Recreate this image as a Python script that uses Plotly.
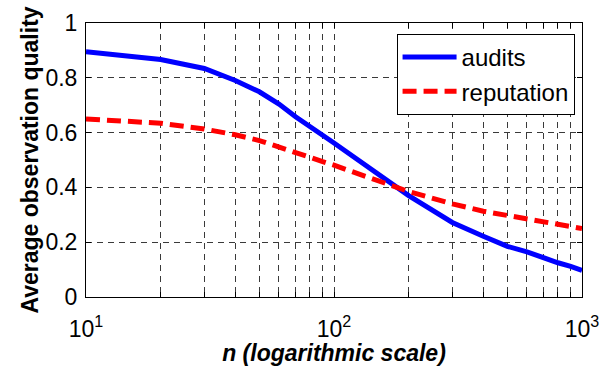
import plotly.graph_objects as go

n_values = [10, 20, 30, 40, 50, 60, 70, 80, 90, 100, 200, 300, 400, 500, 600, 700, 800, 900, 1000]
audits = [0.895, 0.867, 0.834, 0.79, 0.749, 0.704, 0.658, 0.62, 0.59, 0.562,
          0.37, 0.272, 0.222, 0.185, 0.165, 0.143, 0.125, 0.112, 0.097]
reputation = [0.65, 0.634, 0.613, 0.592, 0.571, 0.549, 0.529, 0.51, 0.494, 0.481,
              0.385, 0.34, 0.313, 0.297, 0.283, 0.272, 0.262, 0.256, 0.25]

x_tickvals = [10, 100, 1000]
x_ticktext = ["10<sup>1</sup>", "10<sup>2</sup>", "10<sup>3</sup>"]
y_tickvals = [0, 0.2, 0.4, 0.6, 0.8, 1]
y_ticktext = ["0", "0.2", "0.4", "0.6", "0.8", "1"]

FONT = "Liberation Sans, Arial, Helvetica, sans-serif"

fig = go.Figure()
fig.add_trace(go.Scatter(x=n_values, y=audits, mode="lines", name="audits",
                         line=dict(color="#0000FF", width=5)))
fig.add_trace(go.Scatter(x=n_values, y=reputation, mode="lines", name="reputation",
                         line=dict(color="#FF0000", width=5, dash="14px,7px")))

grid_common = dict(showgrid=True, gridcolor="#3a3a3a", gridwidth=1, griddash="6px,5px")

fig.update_layout(
    width=602, height=366,
    margin=dict(l=86, r=20, t=23, b=69),
    paper_bgcolor="white", plot_bgcolor="white",
    font=dict(family=FONT, size=22, color="black"),
    showlegend=True,
    legend=dict(x=0.985, y=0.96, xanchor="right", yanchor="top",
                bgcolor="white", bordercolor="black", borderwidth=1,
                font=dict(family=FONT, size=24, color="black"),
                itemwidth=54, tracegroupgap=0),
    xaxis=dict(
        type="log", range=[1, 3], automargin=False,
        tickmode="array", tickvals=x_tickvals, ticktext=x_ticktext,
        ticks="inside", ticklen=5, tickcolor="black",
        showline=True, linecolor="black", linewidth=1, mirror="allticks",
        tickfont=dict(size=23),
        ticklabelstandoff=11,
        minor=dict(dtick="D1", ticks="inside", ticklen=5, tickcolor="black",
                   showgrid=True, gridcolor="#3a3a3a", gridwidth=1, griddash="6px,5px"),
        title=dict(text="<b><i>n (logarithmic scale)</i></b>", font=dict(size=23), standoff=5),
        zeroline=False,
        **grid_common,
    ),
    yaxis=dict(
        range=[0, 1], automargin=False,
        tickmode="array", tickvals=y_tickvals, ticktext=y_ticktext,
        ticks="inside", ticklen=5, tickcolor="black",
        showline=True, linecolor="black", linewidth=1, mirror="allticks",
        tickfont=dict(size=23),
        ticklabelstandoff=3,
        title=dict(text="<b>Average observation quality</b>", font=dict(size=23), standoff=0),
        zeroline=False,
        **grid_common,
    ),
)

fig.write_html("out.html", config={"displayModeBar": False},
               post_script="document.body.style.margin='0px';")
